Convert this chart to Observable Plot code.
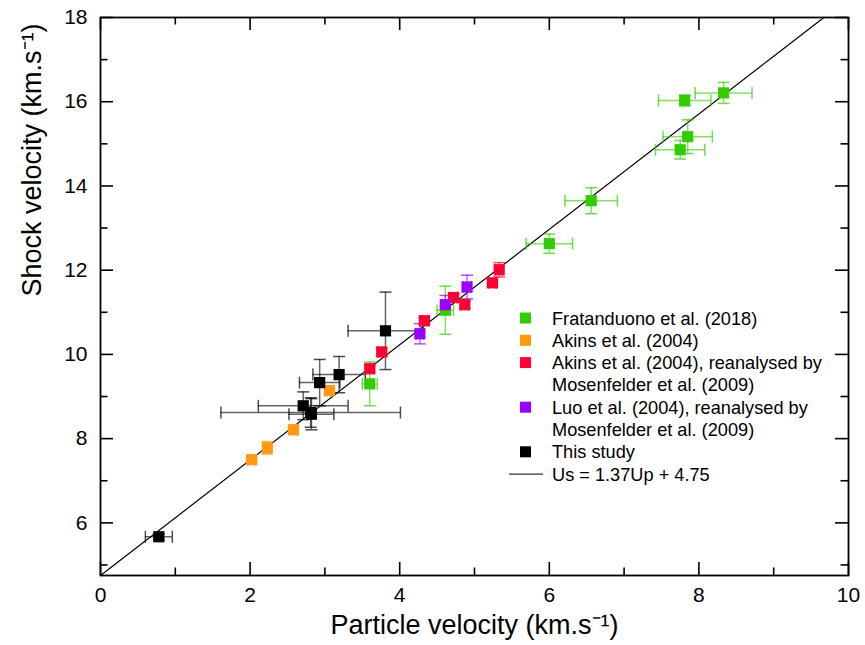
<!DOCTYPE html>
<html><head><meta charset="utf-8">
<script src="https://cdn.jsdelivr.net/npm/d3@7"></script>
<script src="https://cdn.jsdelivr.net/npm/@observablehq/plot@0.6"></script>
<style>body{margin:0;background:#fff} #chart{width:865px;height:645px}</style>
</head><body><div id="chart"></div>
<script>
// ---- data ----
const seriesNames = ["Fratanduono et al. (2018)", "Akins et al. (2004)", "Akins et al. (2004), reanalysed by Mosenfelder et al. (2009)", "Luo et al. (2004), reanalysed by Mosenfelder et al. (2009)", "This study"];
const seriesColors = ["#33cc00", "#ff9911", "#ff0033", "#9900ff", "#000000"];
const legendLines = [["Fratanduono et al. (2018)"], ["Akins et al. (2004)"], ["Akins et al. (2004), reanalysed by", "Mosenfelder et al. (2009)"], ["Luo et al. (2004), reanalysed by", "Mosenfelder et al. (2009)"], ["This study"]];
const fitLabel = "Us = 1.37Up + 4.75";

const fratUp  = [7.81, 8.33, 7.85, 7.75, 6.56, 6.00, 3.60, 4.61];
const fratUs  = [16.03, 16.21, 15.17, 14.86, 13.65, 12.63, 9.30, 11.05];
const fratDup = [0.35, 0.38, 0.33, 0.33, 0.35, 0.31, 0.10, 0.11];
const fratDus = [0.13, 0.25, 0.40, 0.22, 0.31, 0.23, 0.52, 0.57];

const akinsUp  = [2.02, 2.23, 2.58, 3.06];
const akinsUs  = [7.50, 7.78, 8.21, 9.14];
const akinsDup = [0.05, 0.05, 0.05, 0.05];
const akinsDus = [0.05, 0.15, 0.05, 0.05];

const akinsMUp  = [3.60, 3.76, 4.33, 4.72, 4.87, 5.24, 5.33];
const akinsMUs  = [9.66, 10.06, 10.80, 11.35, 11.18, 11.70, 12.01];
const akinsMDup = [0.05, 0.05, 0.05, 0.05, 0.05, 0.05, 0.05];
const akinsMDus = [0.08, 0.08, 0.08, 0.10, 0.08, 0.08, 0.17];

const luoUp  = [4.27, 4.61, 4.90];
const luoUs  = [10.49, 11.18, 11.60];
const luoDup = [0.05, 0.05, 0.05];
const luoDus = [0.24, 0.22, 0.28];

const thisUp  = [0.78, 3.81, 3.19, 2.93, 2.71, 2.81, 2.82];
const thisUs  = [5.67, 10.56, 9.52, 9.33, 8.78, 8.62, 8.58];
const thisDup = [0.18, 0.50, 0.35, 0.27, 0.60, 1.20, 0.30];
const thisDus = [0.07, 0.92, 0.43, 0.55, 0.33, 0.35, 0.37];

const fitSlope = 1.37, fitIntercept = 4.75;
const xDomain = [0, 10], yDomain = [4.75, 18];
const xMajor = [0, 2, 4, 6, 8, 10], xMinor = [1, 3, 5, 7, 9];
const yMajor = [6, 8, 10, 12, 14, 16, 18], yMinor = [5, 7, 9, 11, 13, 15, 17];

// ---- build table ----
const groups = [
  [fratUp, fratUs, fratDup, fratDus],
  [akinsUp, akinsUs, akinsDup, akinsDus],
  [akinsMUp, akinsMUs, akinsMDup, akinsMDus],
  [luoUp, luoUs, luoDup, luoDus],
  [thisUp, thisUs, thisDup, thisDus]
];
const rows = [];
groups.forEach(([u, s, du, ds], i) => u.forEach((v, j) => rows.push({series: seriesNames[i], up: v, us: s[j], dup: du[j], dus: ds[j]})));
const fitLine = [
  {up: xDomain[0], us: fitIntercept + fitSlope * xDomain[0]},
  {up: (yDomain[1] - fitIntercept) / fitSlope, us: yDomain[1]}
];

// ---- custom symbols ----
const rOf = size => Math.sqrt(size / Math.PI);
const square = {draw(c, size) { const r = rOf(size); c.rect(-r, -r, 2 * r, 2 * r); }};
const hcap = {draw(c, size) { const r = rOf(size); c.moveTo(-r, 0); c.lineTo(r, 0); }};
const vcap = {draw(c, size) { const r = rOf(size); c.moveTo(0, -r); c.lineTo(0, r); }};

const W = 865, H = 645, mt = 17, mr = 17, mb = 70, ml = 100;
const fw = W - ml - mr, fh = H - mt - mb;
const font = "Liberation Sans, Arial, Helvetica, sans-serif";

// tick lengths in pixels, converted to data units of each scale
const MAJ = 13, MIN = 7.5;
const pxToY = p => p * (yDomain[1] - yDomain[0]) / fh;
const pxToX = p => p * (xDomain[1] - xDomain[0]) / fw;
const ticksX = [...xMajor.map(v => ({v, len: MAJ})), ...xMinor.map(v => ({v, len: MIN}))];
const ticksY = [...yMajor.map(v => ({v, len: MAJ})), ...yMinor.map(v => ({v, len: MIN}))];
const tickStyle = {stroke: "#000", strokeWidth: 1.6};

const barStyle = {stroke: "series", strokeOpacity: 0.6, strokeWidth: 1.5};
const capStyle = {stroke: "series", strokeOpacity: 0.7, strokeWidth: 1.5, fill: "none", r: 6};

const plot = Plot.plot({
  width: W, height: H,
  marginTop: mt, marginRight: mr, marginBottom: mb, marginLeft: ml,
  style: {fontFamily: font},
  x: {domain: xDomain},
  y: {domain: yDomain},
  color: {domain: seriesNames, range: seriesColors},
  marks: [
    Plot.axisX(xMajor, {tickSize: 0, tickPadding: 12, fontSize: 21, label: null, tickFormat: d => String(d)}),
    Plot.axisY(yMajor, {tickSize: 0, tickPadding: 13, fontSize: 21, label: null, tickFormat: d => String(d)}),
    Plot.text(["Particle velocity (km.s⁻¹)"], {frameAnchor: "bottom", dy: 58, fontSize: 27, text: d => d}),
    Plot.text(["Shock velocity (km.s⁻¹)"], {frameAnchor: "left", dx: -68, rotate: -90, fontSize: 27, text: d => d}),
    // inward ticks on all four sides (rules, like the error bars)
    Plot.ruleX(ticksX, {x: "v", y1: yDomain[0], y2: d => yDomain[0] + pxToY(d.len), ...tickStyle}),
    Plot.ruleX(ticksX, {x: "v", y1: yDomain[1], y2: d => yDomain[1] - pxToY(d.len), ...tickStyle}),
    Plot.ruleY(ticksY, {y: "v", x1: xDomain[0], x2: d => xDomain[0] + pxToX(d.len), ...tickStyle}),
    Plot.ruleY(ticksY, {y: "v", x1: xDomain[1], x2: d => xDomain[1] - pxToX(d.len), ...tickStyle}),
    // fit line
    Plot.line(fitLine, {x: "up", y: "us", stroke: "#000", strokeWidth: 1.2}),
    // error bars
    Plot.ruleY(rows, {y: "us", x1: d => d.up - d.dup, x2: d => d.up + d.dup, ...barStyle}),
    Plot.ruleX(rows, {x: "up", y1: d => d.us - d.dus, y2: d => d.us + d.dus, ...barStyle}),
    Plot.dot(rows, {x: d => d.up - d.dup, y: "us", symbol: vcap, ...capStyle}),
    Plot.dot(rows, {x: d => d.up + d.dup, y: "us", symbol: vcap, ...capStyle}),
    Plot.dot(rows, {x: "up", y: d => d.us - d.dus, symbol: hcap, ...capStyle}),
    Plot.dot(rows, {x: "up", y: d => d.us + d.dus, symbol: hcap, ...capStyle}),
    // markers
    Plot.dot(rows, {x: "up", y: "us", symbol: square, r: 5.6, fill: "series", stroke: "none"}),
    Plot.frame({stroke: "#000", strokeWidth: 1.8})
  ]
});
document.getElementById("chart").appendChild(plot);

// ---- legend (inside the plot area) ----
const svgSel = d3.select(plot);
const lg = svgSel.append("g").attr("font-family", font).attr("font-size", 18.2).attr("text-anchor", "start");
const lineH = 22.3;
let row = 0;
const y0 = 318;
legendLines.forEach((lines, i) => {
  const yy = y0 + row * lineH;
  lg.append("rect").attr("x", 520).attr("y", yy - 5.5).attr("width", 11).attr("height", 11).attr("fill", seriesColors[i]);
  lines.forEach((t, k) => {
    lg.append("text").attr("x", 552).attr("y", yy + k * lineH).attr("dy", "0.36em").text(t);
  });
  row += lines.length;
});
const yf = y0 + row * lineH;
lg.append("line").attr("x1", 509).attr("x2", 543).attr("y1", yf).attr("y2", yf).attr("stroke", "#000").attr("stroke-width", 1);
lg.append("text").attr("x", 552).attr("y", yf).attr("dy", "0.36em").text(fitLabel);
</script>
</body></html>
